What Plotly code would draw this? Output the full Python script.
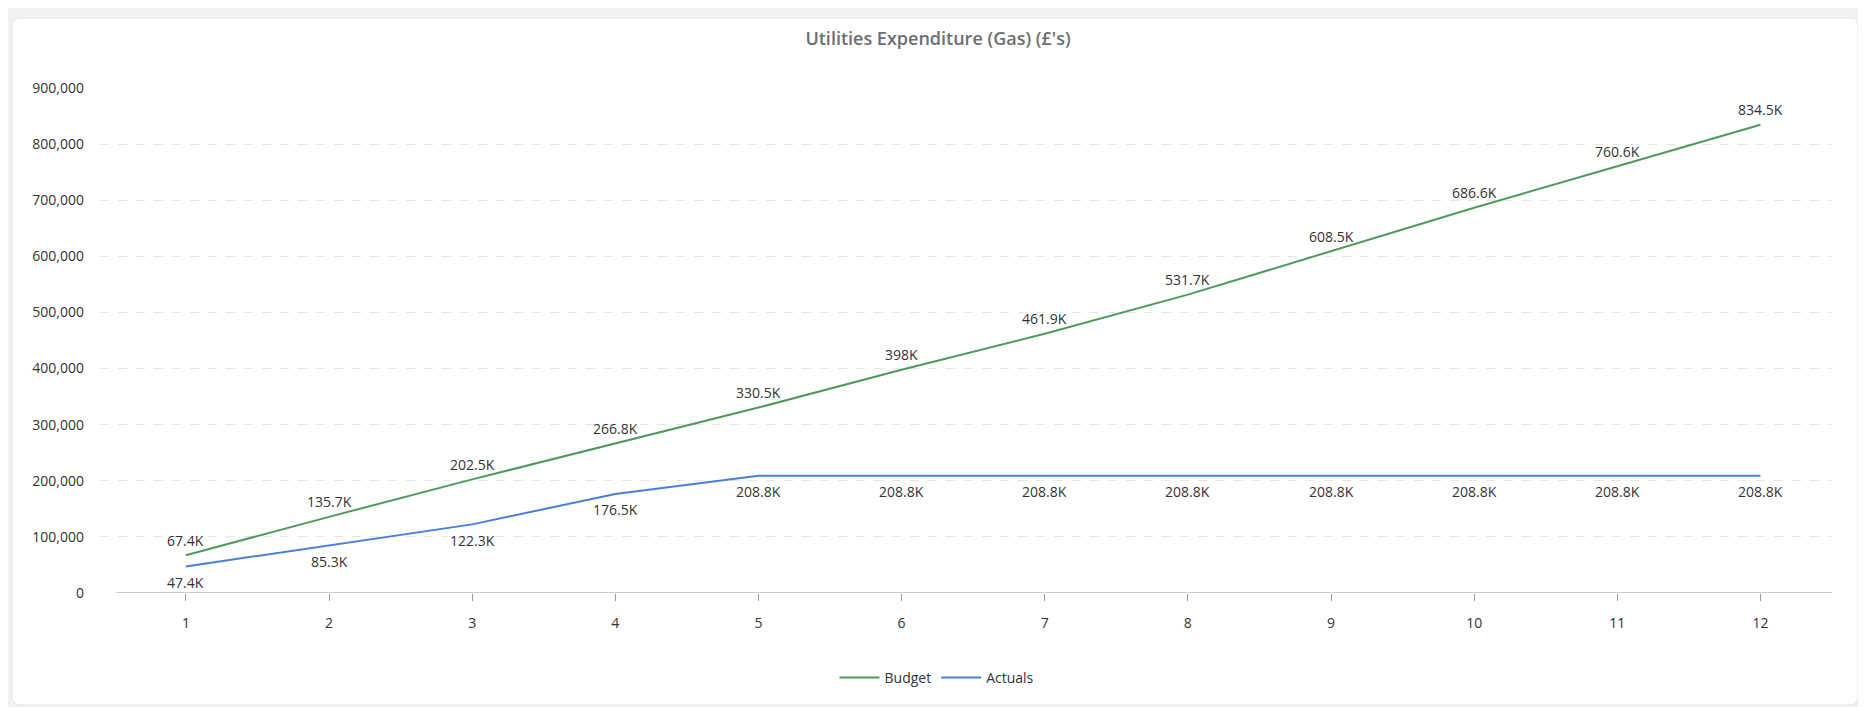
import plotly.graph_objects as go

months = ["1", "2", "3", "4", "5", "6", "7", "8", "9", "10", "11", "12"]
budget = [67400, 135700, 202500, 266800, 330500, 398000, 461900, 531700, 608500, 686600, 760600, 834500]
actuals = [47400, 85300, 122300, 176500, 208800, 208800, 208800, 208800, 208800, 208800, 208800, 208800]
y_ticks = [0, 100000, 200000, 300000, 400000, 500000, 600000, 700000, 800000, 900000]


def fmt_k(v):
    s = f"{v / 1000:.1f}"
    if s.endswith(".0"):
        s = s[:-2]
    return s + "K"


W, H = 1866, 707
PL, PR, PT, PB = 92, 1824, 80, 585  # plot area in figure pixels


def px(x):
    return (x - PL) / (PR - PL)


def py(y):
    return (PB - y) / (PB - PT)


def rounded_rect(x0, y0, x1, y1, r):
    rx = r / (PR - PL)
    ry = r / (PB - PT)
    X0, X1 = px(x0), px(x1)
    Y0, Y1 = py(y0), py(y1)  # Y0 top, Y1 bottom
    return (f"M {X0 + rx},{Y0} L {X1 - rx},{Y0} Q {X1},{Y0} {X1},{Y0 - ry} "
            f"L {X1},{Y1 + ry} Q {X1},{Y1} {X1 - rx},{Y1} "
            f"L {X0 + rx},{Y1} Q {X0},{Y1} {X0},{Y1 + ry} "
            f"L {X0},{Y0 - ry} Q {X0},{Y0} {X0 + rx},{Y0} Z")


FONT = "Open Sans"
GREEN = "#4d9a5b"
BLUE = "#4a7fd8"
LABEL_FONT = dict(family=FONT, size=14, color="#333333")

fig = go.Figure()
fig.add_trace(go.Scatter(
    x=months, y=budget, name="Budget", mode="lines",
    line=dict(color=GREEN, width=2), hoverinfo="x+y",
))
fig.add_trace(go.Scatter(
    x=months, y=actuals, name="Actuals", mode="lines",
    line=dict(color=BLUE, width=2), hoverinfo="x+y",
))

annotations = []
for i, v in enumerate(budget):
    annotations.append(dict(x=i, y=v, xref="x", yref="y", text=fmt_k(v), showarrow=False,
                            yshift=15, font=LABEL_FONT))
for i, v in enumerate(actuals):
    annotations.append(dict(x=i, y=v, xref="x", yref="y", text=fmt_k(v), showarrow=False,
                            yshift=-16, font=LABEL_FONT))

shapes = [
    # white card
    dict(type="path", xref="paper", yref="paper", path=rounded_rect(4, 10, 1850, 697, 8),
         fillcolor="white", line=dict(color="#e2e4e6", width=1), layer="below"),
    # white beyond the right edge of the gray page area
    dict(type="rect", xref="paper", yref="paper", x0=px(1854), x1=px(W + 10), y0=py(H + 10), y1=py(-10),
         fillcolor="white", line=dict(width=0), layer="below"),
    # x axis line
    dict(type="line", xref="x", yref="y", x0=-0.49, x1=11.5, y0=0, y1=0,
         line=dict(color="#9a9a9a", width=1), layer="above"),
]

fig.update_layout(
    width=W, height=H,
    paper_bgcolor="#f1f2f3", plot_bgcolor="rgba(0,0,0,0)",
    margin=dict(l=PL, r=W - PR, t=PT, b=H - PB, autoexpand=False),
    title=dict(text="Utilities Expenditure (Gas) (£'s)", x=930 / W, xanchor="center",
               y=1 - 31 / H, yanchor="middle", yref="container", xref="container",
               font=dict(family=FONT, size=18, color="#6b6e72", weight=600)),
    showlegend=True,
    legend=dict(orientation="h", x=929 / W, xanchor="center", xref="container",
                y=1 - 670 / H, yanchor="middle", yref="container",
                font=dict(family=FONT, size=14, color="#333333"),
                itemwidth=40, bgcolor="rgba(0,0,0,0)"),
    shapes=shapes,
    annotations=annotations,
    hovermode="closest",
)
fig.update_xaxes(
    type="category", range=[-0.6, 11.5], showgrid=False, zeroline=False, showline=False,
    ticks="outside", ticklen=7, tickcolor="#9a9a9a", tickwidth=1,
    tickfont=dict(family=FONT, size=14, color="#333333"), ticklabelstandoff=10,
)
fig.update_yaxes(
    range=[0, 900000], tickvals=y_ticks, tickformat=",", showgrid=True,
    gridcolor="#e6e6e6", griddash="dash", gridwidth=1, zeroline=False, showline=False,
    tickfont=dict(family=FONT, size=14, color="#333333"), ticklabelstandoff=15,
)

fig.write_html("out.html")
